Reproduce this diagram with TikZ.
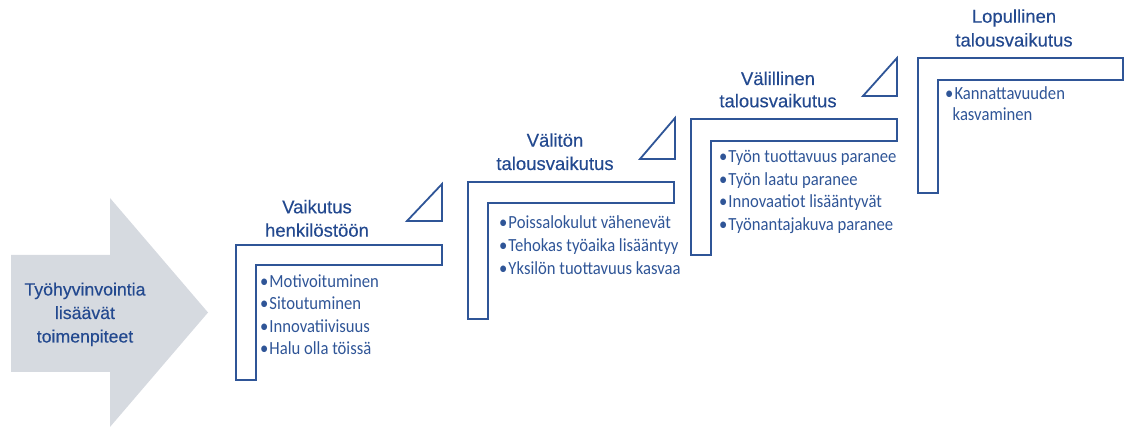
\documentclass[tikz,border=0pt]{standalone}
\usepackage{fontspec}
\setmainfont{Liberation Sans}
\newfontfamily\headfont[FakeBold=0.35]{Liberation Sans}
\newfontfamily\itemfont[FakeStretch=0.9]{Carlito}
\definecolor{lineblue}{HTML}{2F5597}
\definecolor{titleblue}{HTML}{23498F}
\definecolor{itemblue}{HTML}{2F5597}
\definecolor{arrowgray}{HTML}{D6DAE0}
\begin{document}
\begin{tikzpicture}[x=1pt,y=-1pt,
  stairshape/.style={draw=lineblue, line width=1.8pt, line join=miter, fill=white},
  rampshape/.style={draw=lineblue, line width=1.8pt, line join=miter, fill=white},
  titletext/.style={font=\headfont\fontsize{18.5}{22}\selectfont, text=titleblue, anchor=base, inner sep=0pt},
  arrowtext/.style={font=\headfont\fontsize{17.7}{22}\selectfont, text=titleblue, anchor=base, inner sep=0pt},
  itemtext/.style={font=\itemfont\fontsize{18.5}{22}\selectfont, text=itemblue, anchor=base west, inner sep=0pt}]
\useasboundingbox (0,0) rectangle (1125,427);

% big grey arrow on the left
\fill[arrowgray] (11,255) -- (110,255) -- (110,198) -- (208,312.5) -- (110,427)
  -- (110,372) -- (11,372) -- cycle;
\node[arrowtext] (a1) at (85,295.5) {Työhyvinvointia};
\node[arrowtext] (a2) at (85,319) {lisäävät};
\node[arrowtext] (a3) at (85,342.5) {toimenpiteet};

% step 1
\draw[stairshape] (236,245) -- (442,245) -- (442,265) -- (256,265) -- (256,380) -- (236,380) -- cycle;
\draw[rampshape] (407,221) -- (442,221) -- (442,184) -- cycle;
\node[titletext] (t1a) at (317,213.3) {Vaikutus};
\node[titletext] (t1b) at (317,236.7) {henkilöstöön};
\node[itemtext] (i1a) at (260,287.5) {•\kern1pt Motivoituminen};
\node[itemtext] (i1b) at (260,310) {•\kern1pt Sitoutuminen};
\node[itemtext] (i1c) at (260,332.5) {•\kern1pt Innovatiivisuus};
\node[itemtext] (i1d) at (260,355) {•\kern1pt Halu olla töissä};

% step 2
\draw[stairshape] (468,182) -- (674,182) -- (674,203) -- (488,203) -- (488,319) -- (468,319) -- cycle;
\draw[rampshape] (640,159) -- (675,159) -- (675,118) -- cycle;
\node[titletext] (t2a) at (555,146.7) {Välitön};
\node[titletext] (t2b) at (555,170) {talousvaikutus};
\node[itemtext] (i2a) at (499,228.5) {•\kern1pt Poissalokulut vähenevät};
\node[itemtext] (i2b) at (499,251.5) {•\kern1pt Tehokas työaika lisääntyy};
\node[itemtext] (i2c) at (499,274.5) {•\kern1pt Yksilön tuottavuus kasvaa};

% step 3
\draw[stairshape] (691,119) -- (897,119) -- (897,141) -- (711,141) -- (711,255) -- (691,255) -- cycle;
\draw[rampshape] (863,96) -- (897,96) -- (897,58) -- cycle;
\node[titletext] (t3a) at (778,85) {Välillinen};
\node[titletext] (t3b) at (778,107.3) {talousvaikutus};
\node[itemtext] (i3a) at (719,162.8) {•\kern1pt Työn tuottavuus paranee};
\node[itemtext] (i3b) at (719,185.3) {•\kern1pt Työn laatu paranee};
\node[itemtext] (i3c) at (719,207.8) {•\kern1pt Innovaatiot lisääntyvät};
\node[itemtext] (i3d) at (719,230.3) {•\kern1pt Työnantajakuva paranee};

% step 4
\draw[stairshape] (918,58) -- (1123,58) -- (1123,80) -- (938,80) -- (938,193) -- (918,193) -- cycle;
\node[titletext] (t4a) at (1014,22.7) {Lopullinen};
\node[titletext] (t4b) at (1014,46.5) {talousvaikutus};
\node[itemtext] (i4a) at (945,100) {•\kern1pt Kannattavuuden};
\node[itemtext] (i4b) at (952.5,121) {kasvaminen};
\end{tikzpicture}
\end{document}
